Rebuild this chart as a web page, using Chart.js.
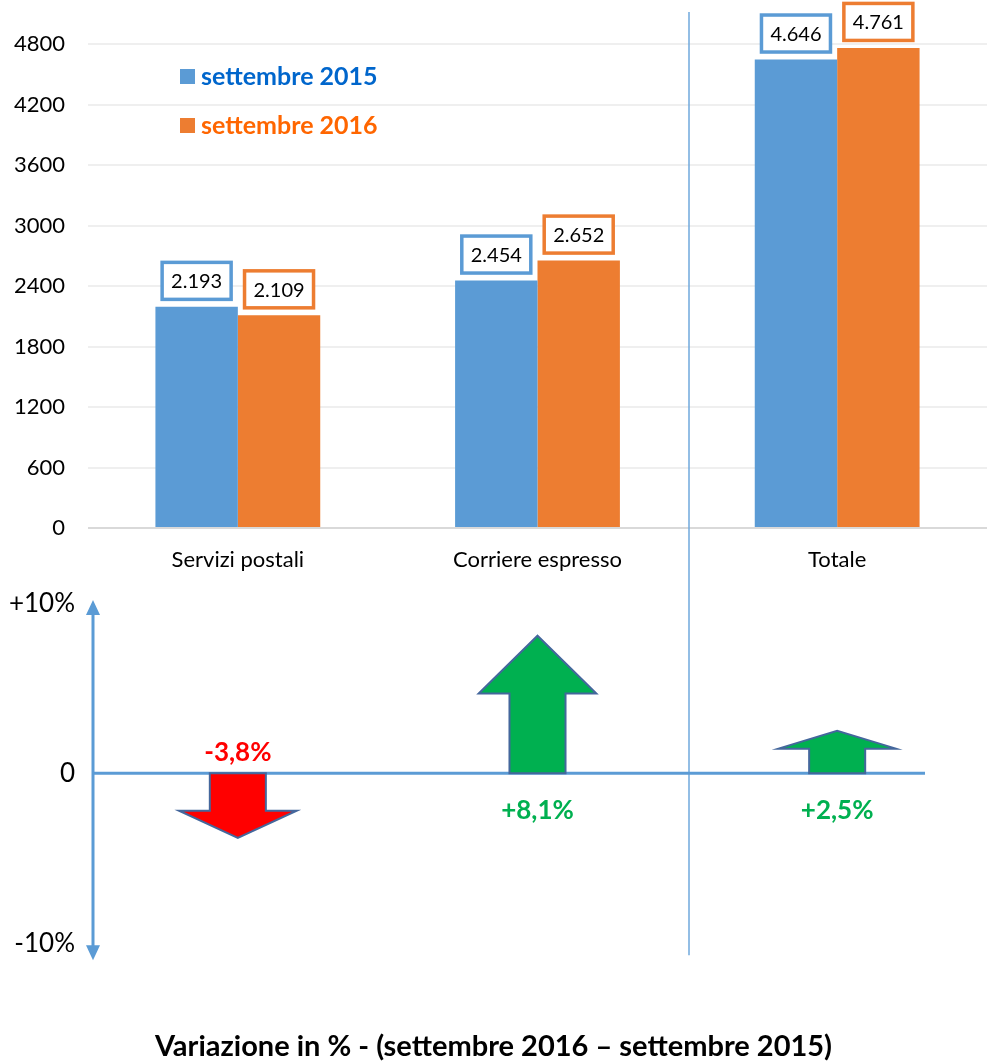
<!DOCTYPE html>
<html lang="it">
<head>
<meta charset="utf-8">
<title>Servizi postali e corriere espresso</title>
<script src="https://cdn.jsdelivr.net/npm/chart.js@4.4.1/dist/chart.umd.min.js"></script>
<style>
  html, body { margin: 0; padding: 0; background: #fff; }
  #wrap { width: 987px; }
  canvas { display: block; }
</style>
</head>
<body>
<div id="wrap">
  <canvas id="valoriChart" width="987" height="590"></canvas>
  <canvas id="variazioneChart" width="987" height="474"></canvas>
</div>
<script>
const categorie = ['Servizi postali', 'Corriere espresso', 'Totale'];
const etichetteSerie = ['settembre 2015', 'settembre 2016'];
const valori2015 = [2193, 2454, 4646];
const valori2016 = [2109, 2652, 4761];
const variazioni = [-3.8, 8.1, 2.5];
const tickValori = [0, 600, 1200, 1800, 2400, 3000, 3600, 4200, 4800];
const tickVariazioni = [-10, 0, 10];
const titoloVariazione = 'Variazione in % - (settembre 2016 – settembre 2015)';

const FONT = 'Lato, "Open Sans", sans-serif';
const BLU = '#5b9bd5';
const ARANCIO = '#ed7d31';
const coloriLegenda = ['#0066cc', '#ff6600'];

// 2193 -> "2.193"
function formatta(n) {
    return String(n).replace(/\B(?=(\d{3})+(?!\d))/g, '.');
}

// -3.8 -> "-3,8%", 8.1 -> "+8,1%"
function formattaPerc(v) {
    return (v > 0 ? '+' : '') + v.toFixed(1).replace('.', ',') + '%';
}

// linea verticale che separa il Totale dalle altre categorie
function xSeparatore(chart) {
    const x = chart.scales.x;
    return Math.round((x.getPixelForValue(1) + x.getPixelForValue(2)) / 2) + 2;
}

const valoriPlugin = {
    id: 'valoriPlugin',
    beforeDatasetsDraw(chart) {
        const ctx = chart.ctx;
        const xs = xSeparatore(chart);
        ctx.save();
        ctx.strokeStyle = '#6fa8dc';
        ctx.lineWidth = 1.5;
        ctx.beginPath();
        ctx.moveTo(xs, 12);
        ctx.lineTo(xs, chart.height);
        ctx.stroke();
        ctx.restore();
    },
    afterDatasetsDraw(chart) {
        const ctx = chart.ctx;
        ctx.save();

        // etichette dei valori nei riquadri
        ctx.font = '20px ' + FONT;
        ctx.textAlign = 'center';
        ctx.textBaseline = 'middle';
        chart.data.datasets.forEach((ds, i) => {
            chart.getDatasetMeta(i).data.forEach((bar, j) => {
                const w = 69, h = 37;
                const bottom = bar.y - 7.5;
                ctx.fillStyle = '#fff';
                ctx.fillRect(bar.x - w / 2, bottom - h, w, h);
                ctx.strokeStyle = ds.backgroundColor;
                ctx.lineWidth = 3.5;
                ctx.strokeRect(bar.x - w / 2, bottom - h, w, h);
                ctx.fillStyle = '#000';
                ctx.fillText(formatta(ds.data[j]), bar.x, bottom - h / 2 + 1);
            });
        });

        // legenda
        ctx.font = 'bold 25px ' + FONT;
        ctx.textAlign = 'left';
        chart.data.datasets.forEach((ds, i) => {
            const y = 69 + i * 49;
            ctx.fillStyle = ds.backgroundColor;
            ctx.fillRect(180, y, 15, 15);
            ctx.fillStyle = coloriLegenda[i];
            ctx.fillText(ds.label, 201, y + 8);
        });
        ctx.restore();
    }
};

new Chart(document.getElementById('valoriChart'), {
    type: 'bar',
    data: {
        labels: categorie,
        datasets: [
            { label: etichetteSerie[0], data: valori2015, backgroundColor: BLU },
            { label: etichetteSerie[1], data: valori2016, backgroundColor: ARANCIO }
        ]
    },
    options: {
        responsive: false,
        animation: false,
        events: [],
        layout: { padding: { top: 44, left: 0, right: 0, bottom: 0 } },
        datasets: { bar: { barPercentage: 1, categoryPercentage: 0.55, borderWidth: 0 } },
        plugins: { legend: { display: false }, tooltip: { enabled: false } },
        scales: {
            x: {
                grid: { display: false, drawTicks: false, tickLength: 0 },
                border: { display: false },
                ticks: { color: '#000', padding: 19, font: { family: FONT, size: 22 } },
                afterFit(scale) {
                    scale.height = 62;
                    scale.paddingLeft = 0;
                    scale.paddingRight = 0;
                }
            },
            y: {
                min: 0,
                max: 4800,
                afterBuildTicks(scale) {
                    scale.ticks = tickValori.map(v => ({ value: v }));
                },
                grid: {
                    drawTicks: false,
                    tickLength: 0,
                    lineWidth: 2,
                    color: ctx => ctx.tick && ctx.tick.value === 0 ? '#d9d9d9' : '#efefef'
                },
                border: { display: false },
                ticks: {
                    color: '#000',
                    padding: 23,
                    font: { family: FONT, size: 22 },
                    callback: v => String(v)
                },
                afterFit(scale) {
                    scale.width = 88;
                    scale.paddingTop = 0;
                    scale.paddingBottom = 0;
                }
            }
        }
    },
    plugins: [valoriPlugin]
});

function linea(ctx, x1, y1, x2, y2) {
    ctx.beginPath();
    ctx.moveTo(x1, y1);
    ctx.lineTo(x2, y2);
    ctx.stroke();
}

const frecceplugin = {
    id: 'frecce',
    afterDatasetsDraw(chart) {
        const ctx = chart.ctx;
        const area = chart.chartArea;
        const ys = chart.scales.y;
        const y0 = ys.getPixelForValue(0);
        const ax = area.left + 5;
        ctx.save();

        // separatore
        const xs = xSeparatore(chart);
        ctx.strokeStyle = '#6fa8dc';
        ctx.lineWidth = 1.5;
        linea(ctx, xs, 0, xs, area.bottom - 5);

        // linea dello zero
        ctx.strokeStyle = BLU;
        ctx.lineWidth = 3;
        linea(ctx, ax, y0, area.right - 62, y0);

        // asse verticale con le due punte
        linea(ctx, ax, area.top + 12, ax, area.bottom - 12);
        ctx.fillStyle = BLU;
        ctx.beginPath();
        ctx.moveTo(ax, area.top);
        ctx.lineTo(ax - 7, area.top + 15);
        ctx.lineTo(ax + 7, area.top + 15);
        ctx.closePath();
        ctx.fill();
        ctx.beginPath();
        ctx.moveTo(ax, area.bottom);
        ctx.lineTo(ax - 7, area.bottom - 15);
        ctx.lineTo(ax + 7, area.bottom - 15);
        ctx.closePath();
        ctx.fill();

        // frecce delle variazioni
        const ds = chart.data.datasets[0];
        chart.getDatasetMeta(0).data.forEach((el, j) => {
            const v = ds.data[j];
            const shaft = el.width / 2;
            const head = el.width * 1.05;
            const hl = Math.abs(el.y - el.base) * 0.42;
            const neck = el.y + (v >= 0 ? hl : -hl);
            ctx.beginPath();
            ctx.moveTo(el.x - shaft, el.base);
            ctx.lineTo(el.x - shaft, neck);
            ctx.lineTo(el.x - head, neck);
            ctx.lineTo(el.x, el.y);
            ctx.lineTo(el.x + head, neck);
            ctx.lineTo(el.x + shaft, neck);
            ctx.lineTo(el.x + shaft, el.base);
            ctx.closePath();
            ctx.fillStyle = v >= 0 ? '#00b050' : '#ff0000';
            ctx.fill();
            ctx.strokeStyle = '#44679c';
            ctx.lineWidth = 2;
            ctx.stroke();

            ctx.font = 'bold 26px ' + FONT;
            ctx.textAlign = 'center';
            ctx.textBaseline = 'middle';
            ctx.fillText(formattaPerc(v), el.x, v >= 0 ? y0 + 37 : y0 - 21);
        });
        ctx.restore();
    }
};

new Chart(document.getElementById('variazioneChart'), {
    type: 'bar',
    data: {
        labels: categorie,
        datasets: [{
            label: 'Variazione %',
            data: variazioni,
            backgroundColor: 'rgba(0,0,0,0)',
            borderWidth: 0
        }]
    },
    options: {
        responsive: false,
        animation: false,
        events: [],
        layout: { padding: { top: 10, left: 0, right: 0, bottom: 0 } },
        datasets: { bar: { barPercentage: 0.187, categoryPercentage: 1 } },
        plugins: {
            legend: { display: false },
            tooltip: { enabled: false },
            title: {
                display: true,
                position: 'bottom',
                text: titoloVariazione,
                color: '#000',
                font: { family: FONT, size: 29, weight: 'bold', lineHeight: 1.2 },
                padding: { top: 69, bottom: 0 }
            }
        },
        scales: {
            x: { display: false },
            y: {
                min: -11,
                max: 10.2,
                afterBuildTicks(scale) {
                    scale.ticks = tickVariazioni.map(v => ({ value: v }));
                },
                grid: { display: false, drawTicks: false, tickLength: 0 },
                border: { display: false },
                ticks: {
                    color: '#000',
                    padding: 13,
                    font: { family: FONT, size: 26 },
                    callback: v => v === 0 ? '0' : (v > 0 ? '+' : '') + v + '%'
                },
                afterFit(scale) {
                    scale.width = 88;
                    scale.paddingTop = 0;
                    scale.paddingBottom = 0;
                }
            }
        }
    },
    plugins: [frecceplugin]
});
</script>
</body>
</html>
